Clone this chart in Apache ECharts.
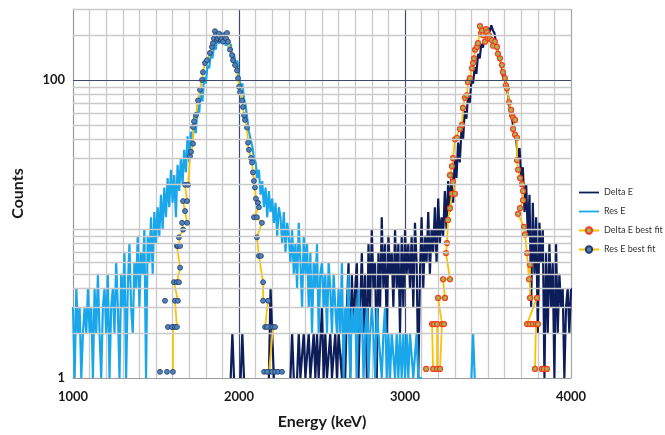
<!DOCTYPE html>
<html>
<head>
<meta charset="utf-8">
<script src="https://cdn.jsdelivr.net/npm/echarts@6/dist/echarts.min.js"></script>
<style>
  html, body { margin: 0; padding: 0; background: #fff; }
  #chart { width: 665px; height: 435px; }
</style>
</head>
<body>
<div id="chart"></div>
<script>
// histogram bins: 10 keV wide
const binWidth = 10

// Res E counts, one per bin from 1000 keV
const resEStart = 1000
const resECounts = [
  3, 1, 4, 2, 3, 1, 2, 3, 2, 4,
  2, 3, 1, 4, 2, 5, 2, 1, 3, 4,
  2, 5, 1, 3, 4, 2, 6, 3, 1, 5,
  3, 7, 1, 4, 8, 3, 2, 6, 4, 9,
  3, 7, 5, 10, 1, 9, 6, 12, 5, 13,
  8, 14, 9, 17, 10, 19, 12, 22, 14, 25,
  15, 23, 12, 27, 18, 30, 20, 34, 24, 42,
  28, 45, 36, 58, 44, 68, 60, 85, 72, 105,
  95, 125, 120, 150, 140, 170, 160, 195, 175, 210,
  185, 200, 170, 190, 160, 175, 140, 150, 125, 135,
  105, 90, 95, 75, 68, 55, 45, 40, 36, 30,
  28, 22, 25, 17, 21, 14, 19, 12, 18, 13,
  16, 11, 15, 9, 14, 12, 8, 13, 7, 11,
  9, 6, 10, 5, 8, 4, 11, 6, 3, 9,
  5, 8, 3, 7, 2, 6, 4, 8, 2, 5,
  6, 3, 5, 2, 6, 4, 2, 5, 3, 2,
  4, 2, 6, 1, 3, 2, 5, 1, 3, 2,
  3, 1, 4, 2, 3, 1, 2, 3, 1, 2,
  3, 2, 1, 3, 2, 2, 1, 2, 3, 1,
  2, 1, 2, 2, 1, 2, 1, 2, 1, 2,
  1, 2, 1, 2, 2, 1, 1, 2, 1, 1, 1
]
// lone Res E count far out
const resESpikeEnergy = [3400, 3410, 3420]
const resESpikeCounts = [1, 2, 1]

// Delta E counts, one per bin from 1950 keV (null = empty bin)
const deltaEStart = 1950
const deltaECounts = [
  1, 2, 1, null, null, null, 1, 2, 1, null,
  null, null, null, null, null, null, null, null, null, null,
  null, null, null, 1, 4, 2, 1, null, null, null,
  null, null, null, null, null, null, 1, 2, 1, null,
  1, 2, 1, 1, 2, 1, 1, 2, 1, 1,
  2, 1, 2, 1, 1, 3, 1, 2, 1, 1,
  2, 1, 1, 2, 1, 2, 2, 1, 2, 1,
  3, 6, 1, 5, 2, 4, 6, 1, 3, 7,
  2, 5, 1, 8, 3, 10, 4, 6, 1, 7,
  3, 12, 4, 8, 2, 9, 5, 7, 3, 10,
  4, 8, 2, 9, 3, 10, 5, 8, 4, 9,
  3, 11, 6, 1, 5, 12, 4, 9, 6, 13,
  5, 10, 7, 14, 6, 16, 8, 12, 9, 18,
  10, 21, 13, 24, 15, 30, 22, 38, 28, 46,
  40, 62, 55, 80, 70, 100, 95, 122, 110, 150,
  140, 175, 165, 200, 190, 225, 210, 233, 215, 205,
  170, 165, 140, 130, 105, 110, 88, 80, 66, 60,
  50, 42, 40, 30, 35, 22, 26, 13, 20, 9,
  17, 3, 15, 5, 12, 2, 11, 6, 10, 1,
  7, 2, 8, 3, 6, 1, 8, 2, 5, 3,
  4, 1, 3, 4, 2, 4
]

// Res E best fit points (null count = break in the line)
const resFitEnergy = [
  1524, 1524, 1554, 1554, 1566, 1566, 1572, 1572,
  1602, 1602, 1596, 1614, 1626, 1614, 1632, 1608, 1626, 1638, 1645,
  1626, 1632, 1645, 1638, 1663, 1657, 1687, 1675, 1663, 1687, 1675, 1693,
  1705, 1711, 1723, 1723, 1729, 1741, 1753, 1765, 1777, 1783, 1795, 1807,
  1825, 1837, 1843, 1849, 1855, 1861, 1867, 1873, 1879, 1885, 1891, 1897,
  1904, 1910, 1916, 1922, 1928, 1934, 1946, 1958, 1964, 1976, 1988, 1994,
  2000, 2006, 2018, 2024, 2030, 2036, 2048, 2054, 2060, 2072, 2078, 2084,
  2090, 2096, 2102, 2114, 2120, 2090, 2108, 2138, 2108, 2120, 2132, 2145,
  2145, 2175, 2157, 2187, 2169, 2205, 2217, 2181, 2181,
  2151, 2151, 2169, 2169, 2199, 2199, 2217, 2217, 2235, 2235, 2259
]
const resFitCounts = [
  1.1, null, 3.3, null, 1.1, null, 2.2, null,
  1.1, 2.2, 2.2, 2.2, 2.2, 3.3, 3.3, 4.4, 4.4, 4.4, 5.5,
  7.7, 7.7, 7.7, 8.8, 9.9, 11, 11, 13.2, 15.4, 15.4, 19.8, 19.8,
  30.8, 33, 37.4, 48.4, 52.8, 58.3, 73, 86, 100, 113, 130, 136,
  152, 167, 177, 190, 213, 200, 186, 190, 205, 194, 186, 190,
  181, 200, 194, 190, 207, 181, 160, 147, 136, 126, 116, 103,
  90, 83, 73, 66, 58, 54, 48, 38, 34, 30, 28, 24,
  21, 19, 16, 15, 14, 12, 12, 11, 8.8, 6.6, 6.6, 4.4,
  3.3, 3.3, 2.2, 2.2, 2.2, 2.2, 2.2, 1.1, null,
  1.1, null, 1.1, null, 1.1, null, 1.1, null, 1.1, null, 1.1
]

// Delta E best fit points (null count = break in the line)
const deltaFitEnergy = [
  3127, 3127,
  3169, 3163, 3175, 3193, 3193, 3193,
  3211, 3223, 3235, 3199, 3241, 3229, 3271, 3247, 3253, 3259, 3271,
  3283, 3301, 3289, 3271, 3283, 3289, 3301, 3313, 3331, 3343, 3349,
  3361, 3373, 3379, 3391, 3404, 3410, 3416, 3422, 3434, 3440, 3452,
  3458, 3464, 3470, 3482, 3488, 3494, 3500, 3506, 3512, 3524, 3530,
  3542, 3554, 3560, 3572, 3584, 3590, 3602, 3608, 3614, 3627, 3639,
  3645, 3651, 3663, 3651, 3663, 3675, 3675, 3681, 3693, 3705, 3711,
  3711, 3693, 3681, 3717, 3723, 3735, 3747, 3753, 3753, 3795, 3735,
  3753, 3771, 3789, 3801, 3783, 3783,
  3825, 3825, 3837, 3837, 3855
]
const deltaFitCounts = [
  1.15, null,
  1.15, 2.3, 2.3, 2.3, 1.15, null,
  1.15, 2.3, 2.3, 3.45, 3.45, 4.6, 4.6, 6.9, 8.05, 11.5, 13.8,
  17.25, 17.25, 20.7, 23, 26.4, 29.9, 40, 41, 47, 50, 65,
  76, 79, 97, 103, 120, 130, 140, 160, 167, 177, 230,
  205, 215, 200, 181, 220, 210, 190, 200, 190, 185, 170,
  181, 167, 150, 140, 126, 113, 103, 92, 88, 71, 63,
  58, 56, 54, 47, 43, 41, 29, 25, 22, 20, 18,
  15.6, 13.8, 12.65, 10.35, 9.2, 6.9, 4.6, 5.75, 3.45, 3.45, 2.3,
  2.3, 2.3, 2.3, 2.3, 1.15, null,
  1.15, null, 1.15, null, 1.15
]

// horizontal grid lines of the log axis
const yGridMinor = [2, 3, 4, 5, 6, 7, 8, 9, 10, 20, 30, 40, 50, 60, 70, 80, 90, 200, 300]
const yGridMajor = [100]

const resEData = resECounts.map((v, i) => [resEStart + i * binWidth, v])
resEData.push([3250, null])
resESpikeEnergy.forEach((e, i) => resEData.push([e, resESpikeCounts[i]]))
const deltaEData = deltaECounts.map((v, i) => [deltaEStart + i * binWidth, v])
const resFitData = resFitEnergy.map((e, i) => [e, resFitCounts[i]])
const deltaFitData = deltaFitEnergy.map((e, i) => [e, deltaFitCounts[i]])

const majorColor = '#3d4a6e'
const minorColor = '#c9c9c9'
const fitYellow = '#ffc000'
const lineIcon = 'path://M0,0h20v1.8h-20z'

const chart = echarts.init(document.getElementById('chart'))
chart.setOption({
  animation: false,
  backgroundColor: '#fff',
  grid: { left: 73, top: 9, right: 94, bottom: 57 },
  legend: {
    data: [
      { name: 'Delta E', icon: lineIcon },
      { name: 'Res E', icon: lineIcon },
      'Delta E best fit',
      'Res E best fit'
    ],
    orient: 'vertical',
    left: 573,
    top: 183,
    itemWidth: 20,
    itemHeight: 8,
    itemGap: 10,
    textStyle: { fontSize: 9, color: '#333', fontFamily: 'Lato' }
  },
  xAxis: {
    type: 'value',
    min: 1000,
    max: 4000,
    interval: 1000,
    axisLine: { lineStyle: { color: '#9a9a9a' } },
    axisTick: { show: false },
    axisLabel: {
      fontSize: 13, fontWeight: 'bold', color: '#1a1a1a', margin: 12, fontFamily: 'Lato',
      formatter: v => String(v)
    },
    splitLine: { show: true, lineStyle: { color: ['#a6a6a6', majorColor, majorColor, '#a6a6a6'], width: 1.2 } },
    minorTick: { show: false, splitNumber: 10 },
    minorSplitLine: { show: true, lineStyle: { color: minorColor, width: 1.3 } },
    name: 'Energy (keV)',
    nameLocation: 'middle',
    nameGap: 36,
    nameTextStyle: { fontSize: 16, fontWeight: 'bold', color: '#1a1a1a', fontFamily: 'Lato' }
  },
  yAxis: {
    type: 'log',
    logBase: 10,
    min: 1,
    max: 300,
    axisLine: { show: true, lineStyle: { color: '#9a9a9a' } },
    axisTick: { show: false },
    splitLine: { show: false },
    axisLabel: {
      fontSize: 13, fontWeight: 'bold', color: '#1a1a1a', margin: 8, fontFamily: 'Lato',
      formatter: v => {
        const r = Math.round(v)
        return (r === 1 || r === 100) ? String(r) : ''
      }
    },
    name: 'Counts',
    nameLocation: 'middle',
    nameGap: 47,
    nameTextStyle: { fontSize: 16, fontWeight: 'bold', color: '#1a1a1a', fontFamily: 'Lato' }
  },
  series: [
    {
      name: 'grid',
      type: 'line',
      data: [],
      z: 1,
      markLine: {
        silent: true,
        symbol: ['none', 'none'],
        label: { show: false },
        lineStyle: { color: minorColor, width: 1.3, type: 'solid' },
        data: yGridMinor.map(v => ({ yAxis: v }))
          .concat(yGridMajor.map(v => ({ yAxis: v, lineStyle: { color: majorColor, width: 1.2, type: 'solid' } })))
      }
    },
    {
      name: 'Delta E',
      type: 'line',
      data: deltaEData,
      symbol: 'none',
      color: '#0c1d5a',
      lineStyle: { width: 2.2 },
      z: 2
    },
    {
      name: 'Res E',
      type: 'line',
      data: resEData,
      symbol: 'none',
      color: '#1aa6ea',
      lineStyle: { width: 2.2 },
      z: 2
    },
    {
      name: 'Delta E best fit',
      type: 'line',
      data: deltaFitData,
      symbol: 'circle',
      symbolSize: 5,
      showAllSymbol: true,
      color: '#9bbb59',
      itemStyle: { color: '#9bbb59', borderColor: '#ff3a1a', borderWidth: 1.2 },
      lineStyle: { color: fitYellow, width: 1.8 },
      z: 3
    },
    {
      name: 'Res E best fit',
      type: 'line',
      data: resFitData,
      symbol: 'circle',
      symbolSize: 5,
      showAllSymbol: true,
      color: '#4f81bd',
      itemStyle: { color: '#4f81bd', borderColor: '#233d66', borderWidth: 0.8 },
      lineStyle: { color: fitYellow, width: 1.8 },
      z: 4
    }
  ]
})
</script>
</body>
</html>
